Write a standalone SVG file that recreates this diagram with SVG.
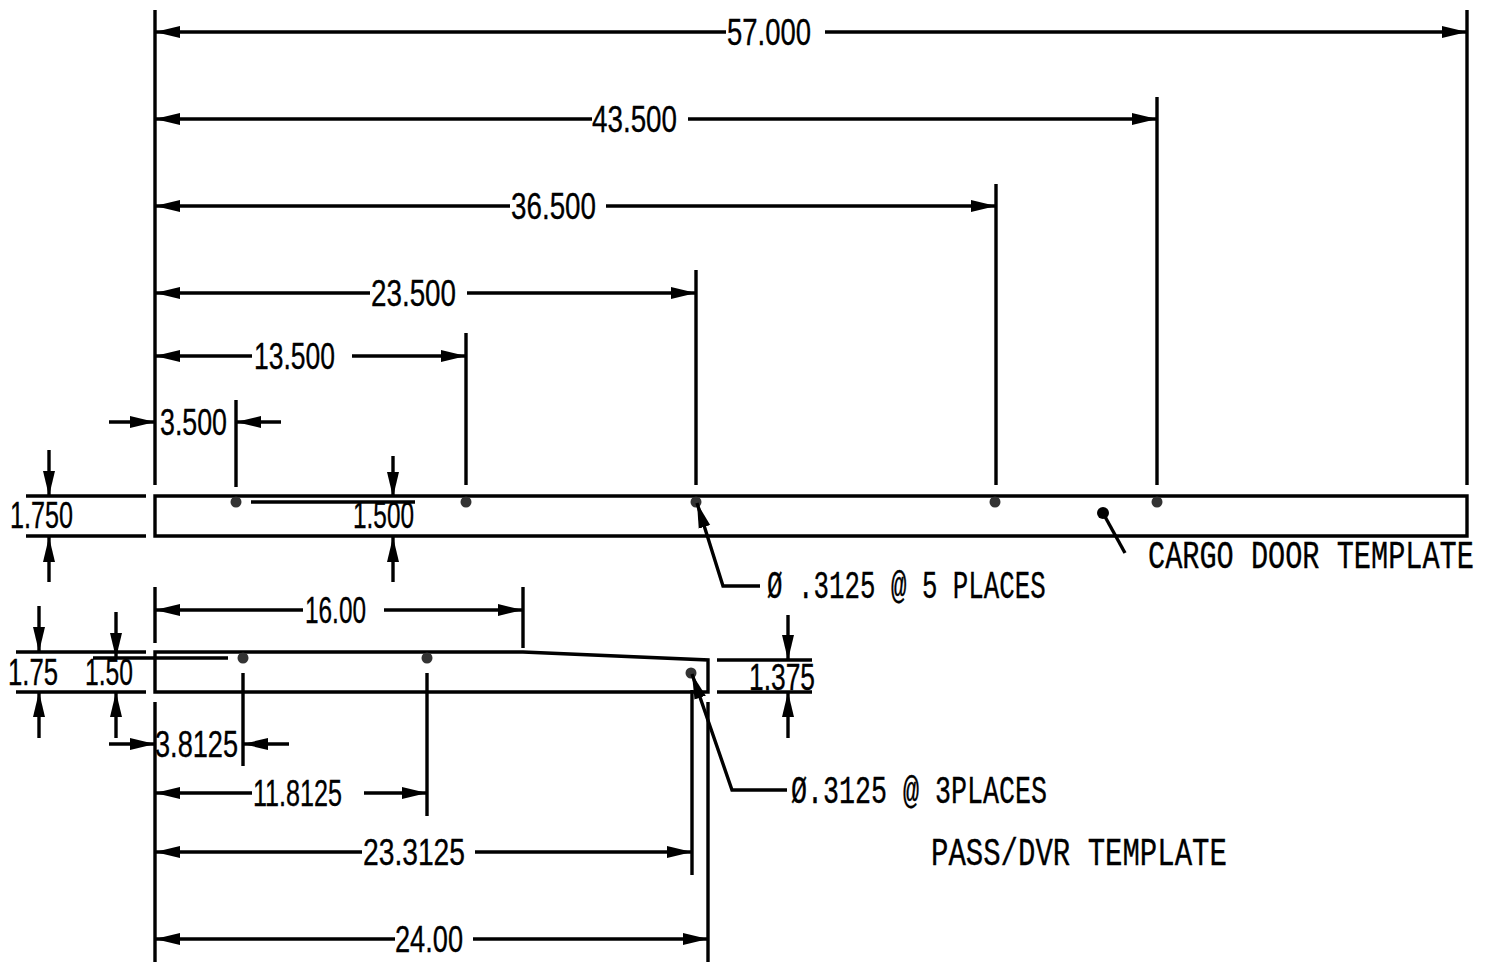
<svg xmlns="http://www.w3.org/2000/svg" width="1491" height="962" viewBox="0 0 1491 962">
<style>
.l{fill:none;stroke:#000;stroke-width:3.4}
.a{marker-end:url(#arr)}
.t{font-family:"Liberation Sans",Arial,sans-serif;font-size:36px;fill:#000;stroke:#000;stroke-width:.35}
.m{font-family:"Liberation Mono","Courier New",monospace;font-size:39px;fill:#000;stroke:#000;stroke-width:.35}
.h{fill:#333;stroke:none}
</style>
<defs><marker id="arr" markerUnits="userSpaceOnUse" markerWidth="26" markerHeight="16" refX="25" refY="8" orient="auto"><path d="M0 2L25 8L0 14Z" fill="#000"/></marker></defs>
<rect width="1491" height="962" fill="#fff"/>
<g id="cargo-template">
<path class="l" d="M155 496H1467V536H155Z"/>
<circle class="h" cx="236" cy="502" r="5.5"/><circle class="h" cx="466" cy="502" r="5.5"/><circle class="h" cx="696" cy="502" r="5.5"/><circle class="h" cx="995" cy="502" r="5.5"/><circle class="h" cx="1157" cy="502" r="5.5"/>
</g>
<g id="pass-template">
<path class="l" d="M155 652H523L708 660V692H155Z"/>
<circle class="h" cx="243" cy="658" r="5.5"/><circle class="h" cx="427" cy="658" r="5.5"/><circle class="h" cx="691" cy="673" r="5.5"/>
</g>
<g id="connectors">
<path class="l" d="M155 10V485M1467 10V485M1157 97V485M996 184V485M696 270V485M466 333V485M236 400V487"/>
<path class="l a" d="M726 32H155"/><path class="l a" d="M825 32H1467"/>
<path class="l a" d="M592 119H155"/><path class="l a" d="M688 119H1157"/>
<path class="l a" d="M510 206H155"/><path class="l a" d="M606 206H996"/>
<path class="l a" d="M370 293H155"/><path class="l a" d="M467 293H696"/>
<path class="l a" d="M252 356H155"/><path class="l a" d="M352 356H466"/>
<path class="l a" d="M109 422H155"/><path class="l a" d="M281 422H236"/>
<path class="l" d="M26 496H146M26 536H146"/>
<path class="l a" d="M49 450V496"/><path class="l a" d="M49 582V537"/>
<path class="l a" d="M393 456V497"/><path class="l a" d="M393 582V537"/>
<path class="l" d="M251 502H415"/>
<path class="l" d="M1103 513L1125 553"/><circle cx="1103" cy="513" r="6" fill="#000"/>
<path class="l a" d="M760 586H723L697 503"/>
<path class="l" d="M155 587V643M523 587V648"/>
<path class="l a" d="M303 610H155"/><path class="l a" d="M384 610H523"/>
<path class="l" d="M16 652H146M16 692H146M93 658H228"/>
<path class="l a" d="M39 606V652"/><path class="l a" d="M39 738V692"/>
<path class="l a" d="M116 612V658"/><path class="l a" d="M116 738V692"/>
<path class="l" d="M717 660H812M717 692H812"/>
<path class="l a" d="M788 615V660"/><path class="l a" d="M788 738V692"/>
<path class="l a" d="M787 790H732L692 674"/>
<path class="l" d="M155 702V962M243 673V766M427 673V816M692 690V875M708 702V962"/>
<path class="l a" d="M109 744H155"/><path class="l a" d="M289 744H243"/>
<path class="l a" d="M252 793H155"/><path class="l a" d="M364 793H427"/>
<path class="l a" d="M362 852H155"/><path class="l a" d="M475 852H692"/>
<path class="l a" d="M395 939H155"/><path class="l a" d="M473 939H708"/>
</g>
<g id="labels">
<text class="t" x="727" y="45" textLength="84" lengthAdjust="spacingAndGlyphs">57.000</text>
<text class="t" x="592" y="132" textLength="85" lengthAdjust="spacingAndGlyphs">43.500</text>
<text class="t" x="511" y="219" textLength="85" lengthAdjust="spacingAndGlyphs">36.500</text>
<text class="t" x="371" y="306" textLength="85" lengthAdjust="spacingAndGlyphs">23.500</text>
<text class="t" x="254" y="369" textLength="81" lengthAdjust="spacingAndGlyphs">13.500</text>
<text class="t" x="160" y="435" textLength="67" lengthAdjust="spacingAndGlyphs">3.500</text>
<text class="t" x="10" y="528" textLength="63" lengthAdjust="spacingAndGlyphs">1.750</text>
<text class="t" x="353" y="528" textLength="61" lengthAdjust="spacingAndGlyphs">1.500</text>
<text class="m" transform="translate(1148 568) scale(.733 1)">CARGO DOOR TEMPLATE</text>
<text class="m" transform="translate(767 598) scale(.662 1)">Ø .3125 @ 5 PLACES</text>
<text class="t" x="305" y="623" textLength="61" lengthAdjust="spacingAndGlyphs">16.00</text>
<text class="t" x="8" y="685" textLength="50" lengthAdjust="spacingAndGlyphs">1.75</text>
<text class="t" x="85" y="685" textLength="48" lengthAdjust="spacingAndGlyphs">1.50</text>
<text class="t" x="749" y="690" textLength="66" lengthAdjust="spacingAndGlyphs">1.375</text>
<text class="t" x="155" y="757" textLength="83" lengthAdjust="spacingAndGlyphs">3.8125</text>
<text class="m" transform="translate(791 803) scale(.684 1)">Ø.3125 @ 3PLACES</text>
<text class="t" x="253" y="806" textLength="89" lengthAdjust="spacingAndGlyphs">11.8125</text>
<text class="t" x="363" y="865" textLength="102" lengthAdjust="spacingAndGlyphs">23.3125</text>
<text class="m" transform="translate(931 865) scale(.744 1)">PASS/DVR TEMPLATE</text>
<text class="t" x="395" y="952" textLength="68" lengthAdjust="spacingAndGlyphs">24.00</text>
</g>
</svg>
